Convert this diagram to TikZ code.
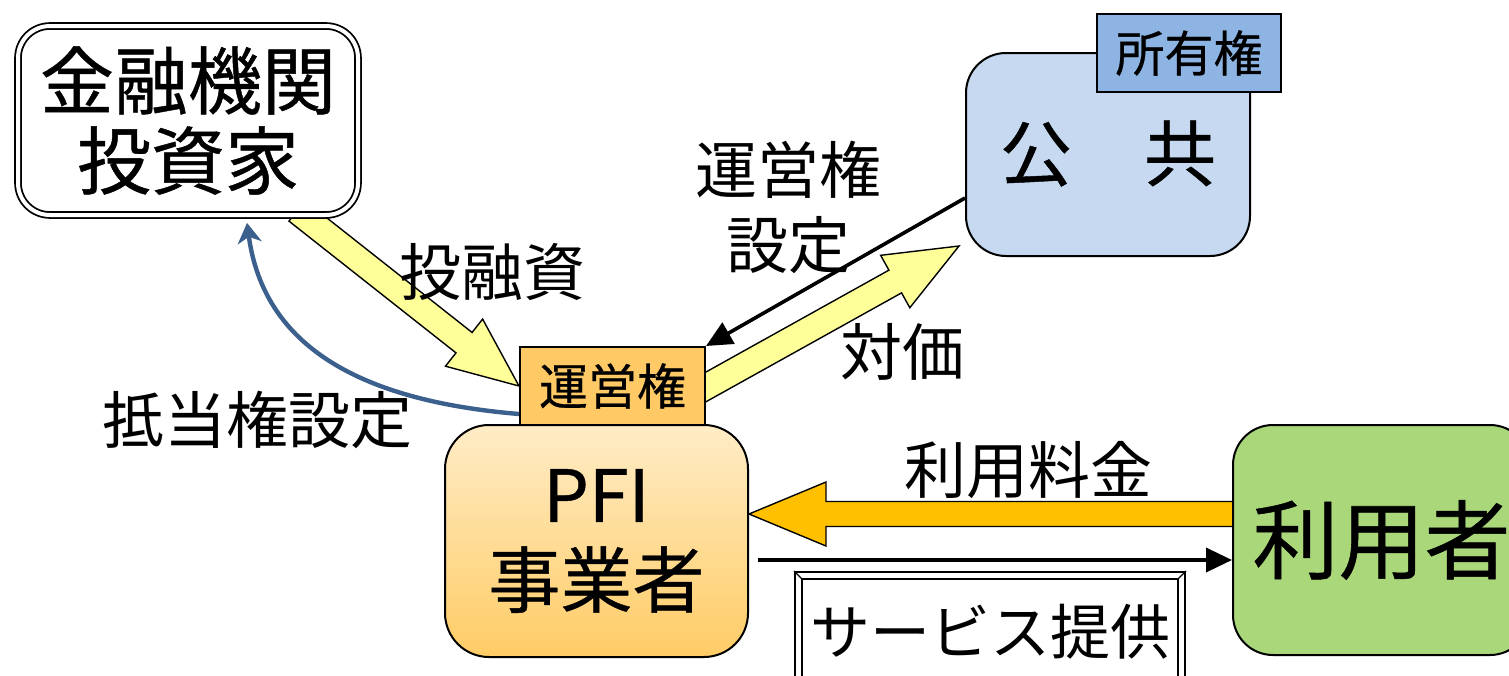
\documentclass[tikz,border=0pt]{standalone}
\usepackage{fontspec}
\newfontfamily\jp{Noto Sans CJK JP}
\newfontfamily\jpb[FakeBold=0.6]{Noto Sans CJK JP}
\usetikzlibrary{calc,arrows.meta}
\pgfdeclarelayer{bg}
\pgfsetlayers{bg,main}
\definecolor{pubblue}{RGB}{198,217,240}
\definecolor{ownblue}{RGB}{141,180,226}
\definecolor{optag}{RGB}{255,201,102}
\definecolor{pfitop}{RGB}{255,236,198}
\definecolor{pfibot}{RGB}{255,204,102}
\definecolor{usrgreen}{RGB}{170,215,122}
\definecolor{argyellow}{RGB}{255,255,153}
\definecolor{argorange}{RGB}{255,192,0}
\definecolor{mortblue}{RGB}{60,96,142}
\newcommand{\blockarrow}[6]{%
  \coordinate (baC) at ($(#3)!#6!(#2)$);
  \draw[#1] ($(#2)!#4!90:(#3)$) -- ($(baC)!#4!-90:(#2)$) -- ($(baC)!#5!-90:(#2)$) -- (#3) -- ($(baC)!#5!90:(#2)$) -- ($(baC)!#4!90:(#2)$) -- ($(#2)!#4!-90:(#3)$) -- cycle;}
\begin{document}
\begin{tikzpicture}[x=0.5pt,y=-0.5pt,
  box/.style={draw=black, line width=1pt, rounded corners=#1, inner sep=0pt, align=center},
  box/.default=20pt,
  tag/.style={draw=black, line width=1pt, inner sep=0pt, minimum height=39pt, font=\jpb\fontsize{24.5}{28}\selectfont},
  lbl/.style={inner sep=0pt, align=center, font=\jp\fontsize{31}{37.5}\selectfont},
  yarrow/.style={draw=black, line width=0.7pt, fill=argyellow, line join=miter},
  oarrow/.style={draw=black, line width=0.7pt, fill=argorange, line join=miter},
  blk/.style={draw=black, line width=1.8pt, -{Triangle[length=13pt,width=12pt]}},
  mort/.style={draw=mortblue, line width=2.2pt, -{Stealth[length=10pt,width=12pt,inset=3pt]}}]
\useasboundingbox (0,0) rectangle (1509,675);
\clip (0,0) rectangle (1509,675);
% nodes
\node[box=16pt, double, double distance=2pt, line width=0.9pt, fill=white, minimum width=170pt, minimum height=94.5pt, font=\jpb\fontsize{37}{40}\selectfont] (fin) at (188,120.5) {金融機関\\投資家};
\node[box=20pt, fill=pubblue, minimum width=142pt, minimum height=101.5pt, font=\jpb\fontsize{36}{40}\selectfont, text depth=4pt] (pub) at (1108,154.5) {公　共};
\node[tag, fill=ownblue, minimum width=92pt] (own) at (1189,53) {所有権};
\node[box=22pt, top color=pfitop, bottom color=pfibot, minimum width=151.5pt, minimum height=116pt, font=\jpb\fontsize{36}{42.5}\selectfont] (pfi) at (596.5,541) {PFI\\事業者};
\node[tag, fill=optag, minimum width=92.5pt] (op) at (612.5,386) {運営権};
\node[box=20pt, fill=usrgreen, minimum width=148.5pt, minimum height=115pt, font=\jpb\fontsize{43}{46}\selectfont] (usr) at (1381.5,540) {利用者};
\node[draw=black, line width=1pt, minimum width=195pt, minimum height=60pt, inner sep=0pt, font=\jp\fontsize{30}{34}\selectfont] (svc) at (990,632) {サービス提供};
\draw[line width=0.8pt] ($(svc.north west)+(8,8)$) rectangle ($(svc.south east)+(-8,-8)$);
\draw[line width=0.6pt] (svc.north west) -- +(8,8) (svc.north east) -- +(-8,8);
% labels
\node[lbl] (linv) at (492,272) {投融資};
\node[lbl] (lmort) at (257,420) {抵当権設定};
\node[lbl] (lopset) at (788,207) {運営権\\設定};
\node[lbl] (lpay) at (902,352) {対価};
\node[lbl] (lfee) at (1028,470) {利用料金};
% block arrows under the boxes
\begin{pgfonlayer}{bg}
\coordinate (invS) at ($(fin.south)+(109,-5)$);
\blockarrow{yarrow}{invS}{op.west}{6.5pt}{15pt}{35pt}
\coordinate (payS) at ($(op.east)+(-20,12)$);
\coordinate (payE) at ($(pub.south west)+(-6,-11)$);
\blockarrow{yarrow}{payS}{payE}{6.5pt}{15pt}{36.5pt}
\coordinate (feeS) at ($(usr.west)+(6,-26)$);
\coordinate (feeE) at ($(pfi.east)+(0,-27)$);
\blockarrow{oarrow}{feeS}{feeE}{6.25pt}{16pt}{38.5pt}
\end{pgfonlayer}
% line connectors
\coordinate (setS) at ($(pub.west)+(0,43.5)$);
\draw[blk] (setS) -- (op.north east);
\coordinate (svcS) at ($(pfi.east)+(9,19)$);
\coordinate (svcE) at ($(usr.west)+(0,20)$);
\draw[blk] (svcS) -- (svcE);
\coordinate (mortS) at ($(op.south west)+(0,-12)$);
\coordinate (mortE) at ($(fin.south)+(59,7)$);
\draw[mort] (mortS) .. controls +(-180,-15) and +(15,110) .. (mortE);
\end{tikzpicture}
\end{document}
